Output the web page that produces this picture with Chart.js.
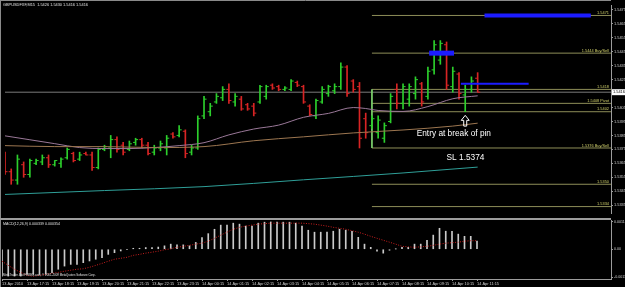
<!DOCTYPE html>
<html>
<head>
<meta charset="utf-8">
<script src="https://cdn.jsdelivr.net/npm/chart.js@4.4.0/dist/chart.umd.min.js"></script>
<style>
  html, body { margin: 0; padding: 0; background: #000; }
  body { width: 625px; height: 287px; position: relative; overflow: hidden; }
  #priceChart { position: absolute; left: 0; top: 0; }
  #sep { position: absolute; left: 0; top: 218px; width: 611px; height: 2px; background: #9c9c9c; }
  #macdChart { position: absolute; left: 0; top: 220px; }
</style>
</head>
<body>
<canvas id="priceChart" width="625" height="218"></canvas>
<div id="sep"></div>
<canvas id="macdChart" width="625" height="67"></canvas>
<script>
// GBPUSD M15 bars, 13 Apr 16:15 -> 14 Apr 11:15
const opens = [
  1.5371, 1.5359, 1.5353, 1.5364, 1.5357, 1.5365, 1.5366, 1.5369, 1.5364, 1.5365,
  1.5369, 1.5372, 1.5368, 1.5372, 1.5371, 1.5362, 1.5375, 1.5376, 1.5382, 1.5378,
  1.5375, 1.5380, 1.5382, 1.5378, 1.5373, 1.5376, 1.5376, 1.5386, 1.5385, 1.5388,
  1.5373, 1.5376, 1.5399, 1.5402, 1.5409, 1.5412, 1.5418, 1.5409, 1.5411, 1.5407,
  1.5406, 1.5409, 1.5413, 1.5421, 1.5420, 1.5418, 1.5418, 1.5423, 1.5420, 1.5406,
  1.5399, 1.5409, 1.5415, 1.5417, 1.5420, 1.5434, 1.5424, 1.5420, 1.5397, 1.5392,
  1.5387, 1.5383, 1.5395, 1.5418, 1.5408, 1.5411, 1.5415, 1.5422, 1.5413, 1.5432,
  1.5439, 1.5450, 1.5420, 1.5429, 1.5414, 1.5418, 1.5426
];
const highs = [
  1.5373, 1.5361, 1.5371, 1.5366, 1.5368, 1.5368, 1.5371, 1.5371, 1.5367, 1.5369,
  1.5376, 1.5373, 1.5373, 1.5373, 1.5373, 1.5376, 1.5378, 1.5385, 1.5384, 1.5380,
  1.5381, 1.5383, 1.5383, 1.5380, 1.5378, 1.5381, 1.5385, 1.5387, 1.5392, 1.5389,
  1.5378, 1.5399, 1.5413, 1.5408, 1.5415, 1.5420, 1.5422, 1.5415, 1.5413, 1.5408,
  1.5408, 1.5421, 1.5421, 1.5422, 1.5421, 1.5420, 1.5425, 1.5424, 1.5421, 1.5407,
  1.5411, 1.5420, 1.5421, 1.5422, 1.5437, 1.5435, 1.5425, 1.5423, 1.5401, 1.5399,
  1.5399, 1.5394, 1.5415, 1.5422, 1.5422, 1.5422, 1.5427, 1.5423, 1.5434, 1.5453,
  1.5453, 1.5452, 1.5434, 1.5430, 1.5421, 1.5427, 1.5430
];
const lows = [
  1.5357, 1.5350, 1.5350, 1.5355, 1.5355, 1.5364, 1.5364, 1.5362, 1.5363, 1.5362,
  1.5368, 1.5366, 1.5367, 1.5371, 1.5360, 1.5361, 1.5374, 1.5369, 1.5373, 1.5371,
  1.5374, 1.5378, 1.5376, 1.5371, 1.5371, 1.5374, 1.5371, 1.5383, 1.5384, 1.5369,
  1.5371, 1.5375, 1.5397, 1.5399, 1.5408, 1.5410, 1.5408, 1.5406, 1.5403, 1.5403,
  1.5399, 1.5408, 1.5411, 1.5418, 1.5417, 1.5417, 1.5417, 1.5420, 1.5408, 1.5399,
  1.5397, 1.5408, 1.5413, 1.5415, 1.5418, 1.5413, 1.5416, 1.5376, 1.5383, 1.5390,
  1.5383, 1.5380, 1.5394, 1.5404, 1.5404, 1.5406, 1.5411, 1.5406, 1.5411, 1.5429,
  1.5436, 1.5418, 1.5416, 1.5411, 1.5402, 1.5416, 1.5416
];
const closes = [
  1.5359, 1.5353, 1.5368, 1.5357, 1.5367, 1.5367, 1.5369, 1.5364, 1.5367, 1.5368,
  1.5375, 1.5367, 1.5371, 1.5371, 1.5362, 1.5375, 1.5377, 1.5382, 1.5375, 1.5373,
  1.5379, 1.5382, 1.5378, 1.5372, 1.5376, 1.5379, 1.5383, 1.5384, 1.5389, 1.5372,
  1.5376, 1.5397, 1.5411, 1.5406, 1.5413, 1.5418, 1.5410, 1.5413, 1.5404, 1.5404,
  1.5401, 1.5420, 1.5420, 1.5419, 1.5418, 1.5419, 1.5424, 1.5421, 1.5409, 1.5400,
  1.5410, 1.5418, 1.5420, 1.5420, 1.5434, 1.5415, 1.5418, 1.5383, 1.5387, 1.5397,
  1.5396, 1.5392, 1.5413, 1.5408, 1.5420, 1.5420, 1.5425, 1.5409, 1.5431, 1.5450,
  1.5451, 1.5421, 1.5431, 1.5415, 1.5418, 1.5424, 1.5416
];

// moving averages, read at some bars
const maPurpleIdx = [0, 4, 8, 12, 16, 20, 24, 28, 32, 36, 40, 44, 48, 52, 56, 58, 60, 64, 68, 72, 76];
const maPurple = [1.53847, 1.53819, 1.53791, 1.53763, 1.53756, 1.53756, 1.53763, 1.53777, 1.53798, 1.53854,
  1.53896, 1.53924, 1.53980, 1.54008, 1.54050, 1.54043, 1.54029, 1.54022, 1.54057, 1.54113, 1.54134];
const maTanIdx = [0, 8, 16, 24, 32, 40, 48, 56, 64, 72, 76];
const maTan = [1.53777, 1.53770, 1.53770, 1.53763, 1.53770, 1.53812, 1.53840, 1.53868, 1.53889, 1.53917, 1.53938];
const maTealIdx = [0, 16, 32, 48, 64, 76];
const maTeal = [1.53427, 1.53455, 1.53483, 1.53532, 1.53581, 1.53623];

// MACD(12,26,9) histogram and signal
const macdMain = [
  -0.00110, -0.00110, -0.00110, -0.00110, -0.00103, -0.00103, -0.00103, -0.00103, -0.00096, -0.00082,
  -0.00069, -0.00062, -0.00062, -0.00055, -0.00048, -0.00041, -0.00034, -0.00021, -0.00014, -0.00007,
  -0.00001, 0.00004, 0.00004, 0.00007, 0.00007, 0.00009, 0.00014, 0.00021, 0.00018, 0.00018,
  0.00014, 0.00028, 0.00048, 0.00064, 0.00082, 0.00099, 0.00099, 0.00107, 0.00103, 0.00095,
  0.00095, 0.00107, 0.00111, 0.00112, 0.00111, 0.00111, 0.00111, 0.00107, 0.00095, 0.00078,
  0.00070, 0.00070, 0.00070, 0.00074, 0.00082, 0.00078, 0.00074, 0.00049, 0.00021, 0.00008,
  -0.00008, -0.00016, -0.00004, 0.00001, 0.00008, 0.00008, 0.00021, 0.00021, 0.00037, 0.00058,
  0.00086, 0.00074, 0.00074, 0.00062, 0.00053, 0.00053, 0.00034
];
const macdSignal = [
  -0.00049, -0.00066, -0.00082, -0.00095, -0.00107, -0.00111, -0.00107, -0.00103, -0.00099, -0.00095,
  -0.00090, -0.00086, -0.00082, -0.00080, -0.00074, -0.00066, -0.00058, -0.00049, -0.00041, -0.00037,
  -0.00033, -0.00025, -0.00021, -0.00016, -0.00012, -0.00008, -0.00002, 0.00002, 0.00008, 0.00012,
  0.00016, 0.00021, 0.00025, 0.00033, 0.00045, 0.00058, 0.00070, 0.00082, 0.00090, 0.00095,
  0.00099, 0.00103, 0.00105, 0.00107, 0.00107, 0.00107, 0.00107, 0.00107, 0.00107, 0.00105,
  0.00103, 0.00099, 0.00095, 0.00090, 0.00086, 0.00082, 0.00076, 0.00070, 0.00062, 0.00053,
  0.00045, 0.00037, 0.00029, 0.00021, 0.00012, 0.00010, 0.00008, 0.00010, 0.00012, 0.00016,
  0.00021, 0.00025, 0.00027, 0.00029, 0.00033, 0.00035, 0.00035
];

// axis ticks
const priceTicks = [1.5335, 1.5345, 1.5355, 1.5365, 1.5375, 1.5385, 1.5395, 1.5405, 1.5415, 1.5425,
  1.5435, 1.5445, 1.5455, 1.5465, 1.5475];
const timeTickIdx = [0, 4, 8, 12, 16, 20, 24, 28, 32, 36, 40, 44, 48, 52, 56, 60, 64, 68, 72, 76];
const timeLabels = ['13 Apr 2010', '13 Apr 17:15', '13 Apr 18:15', '13 Apr 19:15', '13 Apr 20:15',
  '13 Apr 21:15', '13 Apr 22:15', '13 Apr 23:15', '14 Apr 00:15', '14 Apr 01:15', '14 Apr 02:15',
  '14 Apr 03:15', '14 Apr 04:15', '14 Apr 05:15', '14 Apr 06:15', '14 Apr 07:15', '14 Apr 08:15',
  '14 Apr 09:15', '14 Apr 10:15', '14 Apr 11:15'];
const macdTicks = [-0.00114, 0, 0.00112];
const macdTickLabels = ['-0.00114', '0.00', '0.00112'];

// drawn objects
const levelStart = 59;
const levelPrices = [1.5471, 1.5444, 1.5418, 1.5408, 1.5402, 1.5376, 1.5350, 1.5334];
const levelLabels = ['1.5471', '1.5444 Buy/Sell', '1.5418', '1.5408 Pivot', '1.5402', '1.5376 Buy/Sell', '1.5350', '1.5334'];
const bidPrice = 1.5416;
const boxTop = 1.5418, boxBottom = 1.5376;
const blueFrom = [77.1, 68.2, 73.3];
const blueTo = [94.2, 72.2, 84.2];
const bluePrice = [1.5471, 1.5444, 1.5422];
const arrowIdx = 74, arrowTip = 1.53994, arrowBase = 1.53917;
const notes = [
  { text: 'Entry at break of pin', x: 66.2, price: 1.53861 },
  { text: 'SL 1.5374', x: 71.0, price: 1.53690 }
];
const titleText = 'GBPUSDFXF,M15  1.5426 1.5430 1.5416 1.5416';
const macdTitle = 'MACD(12,26,9) 0.000339 0.000354';
const copyText = 'MetaTrader 4 at FOREX.com, \u00a9 2001-2009 MetaQuotes Software Corp.';

const X_MAX = 97.44;
const PRICE_MIN = 1.53294, PRICE_MAX = 1.54785;
const MACD_MIN = -0.00122, MACD_MAX = 0.00120;

const UP = '#2ccf2c', DOWN = '#d82424';
const FONT = 'Liberation Sans';
Chart.defaults.font.family = FONT;

const barColors = closes.map((c, i) => c >= opens[i] ? UP : DOWN);
const pts = (idx, vals) => idx.map((x, k) => ({ x: x, y: vals[k] }));

const levelSets = levelPrices.map(p => ({
  type: 'line',
  data: [{ x: levelStart, y: p }, { x: X_MAX, y: p }],
  borderColor: '#8e8e58', borderWidth: 1, pointRadius: 0, order: 10
}));

const blueSets = bluePrice.map((p, k) => ({
  type: 'line',
  data: [{ x: blueFrom[k], y: p }, { x: blueTo[k], y: p }],
  borderColor: '#1c1cff', borderWidth: [4, 5, 2][k], pointRadius: 0, order: 1
}));

function maSet(idx, vals, color) {
  return {
    type: 'line', data: pts(idx, vals), borderColor: color, borderWidth: 1,
    pointRadius: 0, cubicInterpolationMode: 'monotone', order: 4
  };
}

function tickSet(vals, shift) {
  return {
    type: 'line', showLine: false,
    data: vals.map((v, i) => ({ x: i + shift, y: v })),
    pointStyle: 'line', pointRadius: 1.3, pointBorderWidth: 1,
    pointBorderColor: barColors, pointBackgroundColor: barColors, order: 5
  };
}

const overlay = {
  id: 'overlay',
  afterDraw(chart) {
    const { ctx, chartArea } = chart;
    const x = chart.scales.x, y = chart.scales.y;
    ctx.save();
    // frame
    ctx.strokeStyle = '#8a8a8a';
    ctx.lineWidth = 1;
    ctx.beginPath();
    ctx.moveTo(0, 0.5); ctx.lineTo(chartArea.right, 0.5);
    ctx.moveTo(0.5, 0); ctx.lineTo(0.5, chart.height);
    ctx.stroke();

    // title
    ctx.font = '3.9px "' + FONT + '"';
    ctx.fillStyle = '#e0e0e0';
    ctx.textBaseline = 'top';
    ctx.textAlign = 'left';
    ctx.fillText(titleText, 3, 3);

    // level labels
    ctx.fillStyle = '#cfcf6a';
    ctx.textAlign = 'right';
    ctx.textBaseline = 'bottom';
    levelPrices.forEach((p, k) => {
      ctx.fillText(levelLabels[k], chartArea.right - 2, y.getPixelForValue(p) - 0.5);
    });

    // notes
    ctx.font = '8.3px "' + FONT + '"';
    ctx.fillStyle = '#ffffff';
    ctx.textAlign = 'left';
    ctx.textBaseline = 'middle';
    notes.forEach(n => ctx.fillText(n.text, x.getPixelForValue(n.x), y.getPixelForValue(n.price)));

    // hollow up arrow under the pin bar
    const cx = x.getPixelForValue(arrowIdx);
    const ty = y.getPixelForValue(arrowTip);
    const by = y.getPixelForValue(arrowBase);
    ctx.strokeStyle = '#ffffff';
    ctx.beginPath();
    ctx.moveTo(cx, ty);
    ctx.lineTo(cx + 4, ty + 5);
    ctx.lineTo(cx + 1.5, ty + 5);
    ctx.lineTo(cx + 1.5, by);
    ctx.lineTo(cx - 1.5, by);
    ctx.lineTo(cx - 1.5, ty + 5);
    ctx.lineTo(cx - 4, ty + 5);
    ctx.closePath();
    ctx.stroke();

    // bid price box on the axis
    const py = y.getPixelForValue(bidPrice);
    ctx.fillStyle = '#ffffff';
    ctx.fillRect(chartArea.right + 1, py - 3, chart.width - chartArea.right - 1, 6);
    ctx.fillStyle = '#000000';
    ctx.font = '3.9px "' + FONT + '"';
    ctx.fillText(bidPrice.toFixed(4), chartArea.right + 2, py);
    ctx.restore();
  }
};

new Chart(document.getElementById('priceChart'), {
  type: 'bar',
  data: {
    datasets: [
      ...levelSets,
      {
        type: 'line',
        data: [{ x: levelStart, y: boxTop }, { x: levelStart, y: boxBottom }],
        borderColor: '#7ccf6c', borderWidth: 1, pointRadius: 0, order: 9
      },
      {
        type: 'line',
        data: [{ x: 0, y: bidPrice }, { x: X_MAX, y: bidPrice }],
        borderColor: '#7a7a7a', borderWidth: 1, pointRadius: 0, order: 9
      },
      maSet(maTealIdx, maTeal, '#2f9f98'),
      maSet(maTanIdx, maTan, '#9c7650'),
      maSet(maPurpleIdx, maPurple, '#9a7898'),
      {
        type: 'bar',
        data: lows.map((l, i) => ({ x: i, y: [l, highs[i]] })),
        backgroundColor: barColors, borderWidth: 0, barThickness: 1, order: 6
      },
      tickSet(opens, -0.2),
      tickSet(closes, 0.2),
      ...blueSets
    ]
  },
  options: {
    responsive: false,
    animation: false,
    layout: { padding: { left: 2, top: 4, right: 0, bottom: 1 } },
    plugins: { legend: { display: false }, tooltip: { enabled: false } },
    scales: {
      x: { type: 'linear', display: false, offset: false, grace: 0, min: 0, max: X_MAX },
      y: {
        type: 'linear', position: 'right', min: PRICE_MIN, max: PRICE_MAX,
        afterBuildTicks: s => { s.ticks = priceTicks.map(v => ({ value: v })); },
        afterFit: s => { s.width = 14; s.paddingTop = 0; s.paddingBottom = 0; },
        ticks: { color: '#d0d0d0', font: { size: 3.9 }, padding: 1, callback: v => v.toFixed(4) },
        grid: { drawOnChartArea: false, color: '#9c9c9c', tickLength: 2 },
        border: { color: '#9c9c9c' }
      }
    }
  },
  plugins: [overlay]
});

const macdText = {
  id: 'macdText',
  afterDraw(chart) {
    const { ctx } = chart;
    ctx.save();
    ctx.strokeStyle = '#8a8a8a';
    ctx.beginPath();
    ctx.moveTo(0.5, 0); ctx.lineTo(0.5, chart.height);
    ctx.stroke();
    ctx.fillStyle = '#e0e0e0';
    ctx.textBaseline = 'top';
    ctx.font = '3.6px "' + FONT + '"';
    ctx.fillText(macdTitle, 3, 2);
    ctx.font = '2.9px "' + FONT + '"';
    ctx.fillText(copyText, 3, 54);
    ctx.restore();
  }
};

new Chart(document.getElementById('macdChart'), {
  type: 'bar',
  data: {
    datasets: [
      {
        type: 'line', data: macdSignal.map((v, i) => ({ x: i, y: v })),
        borderColor: '#c81e1e', borderWidth: 1, borderDash: [1, 1.5], pointRadius: 0, order: 1
      },
      {
        type: 'bar', data: macdMain.map((v, i) => ({ x: i, y: v })),
        backgroundColor: '#cacaca', borderWidth: 0, barThickness: 1, order: 2
      }
    ]
  },
  options: {
    responsive: false,
    animation: false,
    layout: { padding: { left: 2, top: 0, right: 0, bottom: 0 } },
    plugins: { legend: { display: false }, tooltip: { enabled: false } },
    scales: {
      x: {
        type: 'linear', position: 'bottom', offset: false, grace: 0, min: 0, max: X_MAX,
        afterBuildTicks: s => { s.ticks = timeTickIdx.map(v => ({ value: v })); },
        afterFit: s => { s.height = 8; s.paddingLeft = 0; s.paddingRight = 0; },
        ticks: {
          autoSkip: false, maxRotation: 0, minRotation: 0, align: 'start', padding: 0.5,
          color: '#d0d0d0', font: { size: 3.9 }, callback: (v, k) => timeLabels[k]
        },
        grid: { drawOnChartArea: false, offset: false, color: '#9c9c9c', tickLength: 2 },
        border: { color: '#9c9c9c' }
      },
      y: {
        type: 'linear', position: 'right', min: MACD_MIN, max: MACD_MAX,
        afterBuildTicks: s => { s.ticks = macdTicks.map(v => ({ value: v })); },
        afterFit: s => { s.width = 14; s.paddingTop = 0; s.paddingBottom = 0; },
        ticks: { color: '#d0d0d0', font: { size: 3.6 }, padding: 1, callback: (v, k) => macdTickLabels[k] },
        grid: { drawOnChartArea: false, color: '#9c9c9c', tickLength: 2 },
        border: { color: '#9c9c9c' }
      }
    }
  },
  plugins: [macdText]
});
</script>
</body>
</html>
